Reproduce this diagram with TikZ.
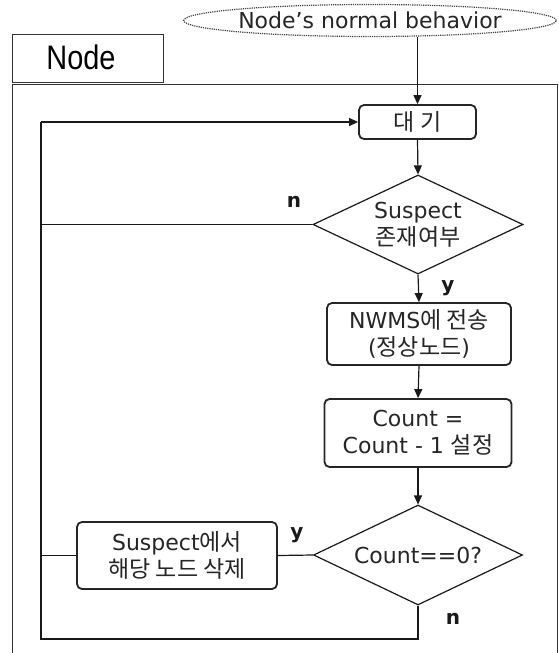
\documentclass[tikz,border=0pt]{standalone}
\usepackage{fontspec}
\setmainfont{DejaVu Sans}
\newfontfamily\krfam{Noto Sans CJK KR}
\newcommand{\kr}{\krfam\fontsize{23}{27}\selectfont}
\newfontfamily\lib{Liberation Sans}
\usetikzlibrary{shapes.geometric,arrows.meta}
\begin{document}
\begin{tikzpicture}[x=1pt,y=-1pt,
  txt/.style={text=black!85, font=\fontsize{22}{27}\selectfont},
  box/.style={txt, draw=black!85, line width=1.8pt, rounded corners=5pt, inner sep=0pt, align=center},
  dec/.style={txt, draw=black!90, diamond, line width=1.2pt, inner sep=0pt, align=center},
  con/.style={line width=1.2pt, draw=black!90},
  arr/.style={con, -{Triangle[length=9pt,width=8pt]}},
  lab/.style={font=\fontsize{20}{20}\selectfont\bfseries, text=black!90},
  frame/.style={draw=black!80, line width=1pt}]
\useasboundingbox (0,0) rectangle (559,653);
\fill[white] (0,0) rectangle (559,653);

% frames
\draw[frame] (12,653) -- (12,84) -- (557,84) -- (557,653);
\node[frame, draw, minimum width=151pt, minimum height=48pt, inner sep=0pt] (nodebox) at (87.5,58) {};
\node[font=\lib\fontsize{34}{34}\selectfont, text=black] (nodelbl) at (81,57) {\scalebox{0.85}[1]{Node}};

% start ellipse
\node[ellipse, draw=black!75, densely dotted, line width=1.2pt, minimum width=367pt, minimum height=32pt, inner sep=0pt, txt] (start) at (370,20.5) {Node’s normal behavior};

% nodes
\node[box, minimum width=117pt, minimum height=34pt] (wait) at (417.5,122) {{\kr 대 기}};
\node[dec, minimum width=210pt, minimum height=99pt, aspect=2.12] (d1) at (418,224.5) {Suspect\\{\kr 존재여부}};
\node[box, minimum width=184pt, minimum height=62pt] (nwms) at (419,334) {NWMS{\kr 에 전송}\\({\kr 정상노드})};
\node[box, minimum width=187pt, minimum height=68pt] (count) at (418,433) {Count =\\Count - 1 {\kr 설정}};
\node[dec, minimum width=209pt, minimum height=100pt, aspect=2.09] (d2) at (418,555) {Count==0?};
\node[box, minimum width=200pt, minimum height=67pt] (del) at (177,555.5) {Suspect{\kr 에서}\\{\kr 해당 노드 삭제}};

% loop corner coordinates
\coordinate (ltop) at (41,122);
\coordinate (lbot) at (41,639);
\coordinate (rbot) at (418,639);

% connectors
\draw[arr] (wait.north |- start.south) -- (wait.north);
\draw[arr] (wait.south) -- (d1.north);
\draw[arr] (d1.south) -- (nwms.north);
\draw[arr] (nwms.south) -- (count.north);
\draw[arr] (count.south) -- (d2.north);
\draw[con] (d1.west) -- (d1.west -| ltop);
\draw[con] (d2.west) -- (del.east);
\draw[con] (del.west) -- (del.west -| ltop);
\draw[con] (d2.south) -- (rbot) -- (lbot) -- (ltop);
\draw[arr] (ltop) -- (wait.west);

% labels
\node[lab] (n1) at (294,202) {n};
\node[lab] (y1) at (448,288) {y};
\node[lab] (y2) at (297,535) {y};
\node[lab] (n2) at (453,619) {n};
\end{tikzpicture}
\end{document}
